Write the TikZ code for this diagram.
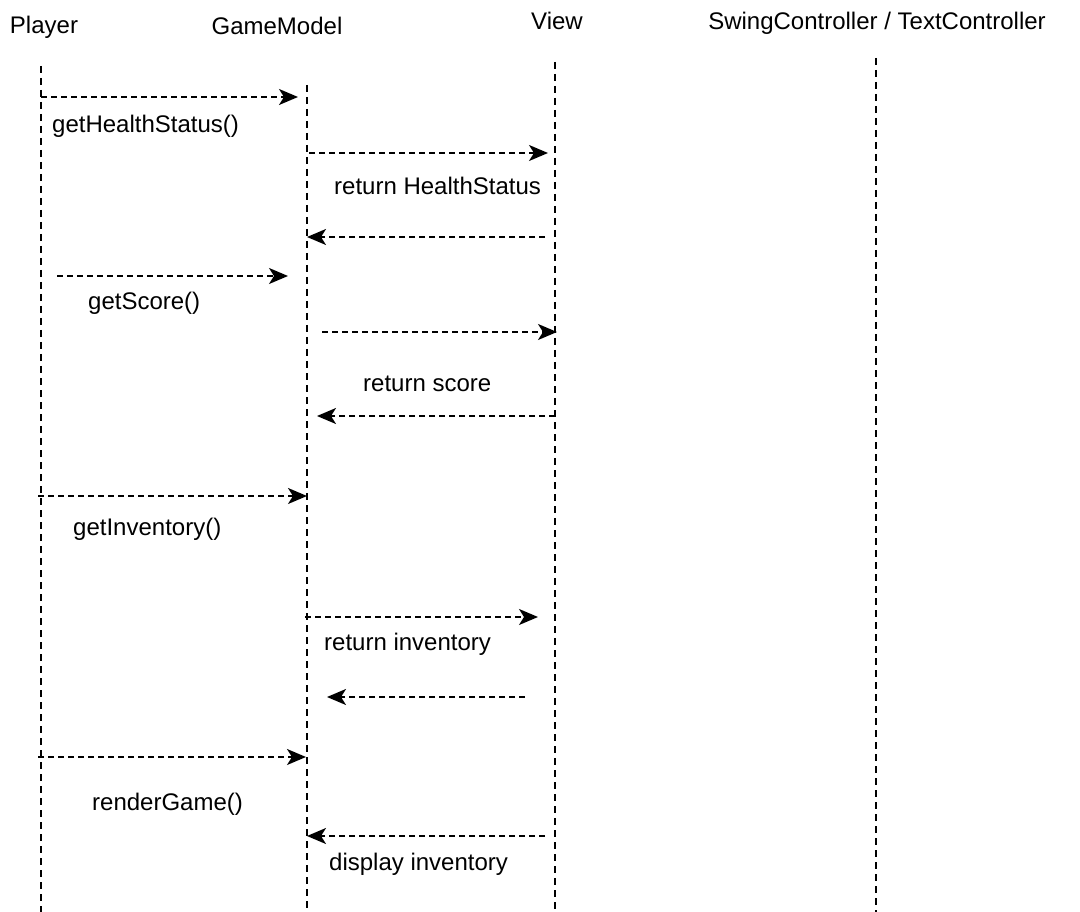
\documentclass[tikz,border=0pt]{standalone}
\usepackage{fontspec}
\setmainfont{Liberation Sans}
\usetikzlibrary{arrows.meta}
\begin{document}
\begin{tikzpicture}[x=1pt,y=-1pt,
  lifeline/.style={line width=1.8pt,dash pattern=on 7pt off 5pt},
  msg/.style={line width=1.8pt,dash pattern=on 6pt off 4pt,-{Stealth[length=19pt,width=16pt,inset=5pt]}},
  lbl/.style={anchor=base west,inner sep=0pt,font=\fontsize{24}{28}\selectfont},
  head/.style={anchor=base,inner sep=0pt,font=\fontsize{24}{28}\selectfont}]
\useasboundingbox (0,0) rectangle (1080,912);
% headers
\node[head] (hP) at (44,34) {Player};
\node[head] (hG) at (277,35) {GameModel};
\node[head] (hV) at (557,30) {View};
\node[head] (hC) at (877,30) {SwingController / TextController};
% lifelines
\coordinate (Pt) at (41,66);  \coordinate (Pb) at (41,912);
\coordinate (Gt) at (307,85); \coordinate (Gb) at (307,912);
\coordinate (Vt) at (555,62); \coordinate (Vb) at (555,912);
\coordinate (Ct) at (876,58); \coordinate (Cb) at (876,912);
\draw[lifeline] (Pt) -- (Pb);
\draw[lifeline] (Gt) -- (Gb);
\draw[lifeline] (Vt) -- (Vb);
\draw[lifeline] (Ct) -- (Cb);
% message endpoints
\coordinate (m1a) at (41,97);   \coordinate (m1b) at (298,97);
\coordinate (m2a) at (309,153); \coordinate (m2b) at (548,153);
\coordinate (m3a) at (545,237); \coordinate (m3b) at (307,237);
\coordinate (m4a) at (57,276);  \coordinate (m4b) at (288,276);
\coordinate (m5a) at (322,332); \coordinate (m5b) at (557,332);
\coordinate (m6a) at (555,416); \coordinate (m6b) at (317,416);
\coordinate (m7a) at (38,496);  \coordinate (m7b) at (307,496);
\coordinate (m8a) at (305,617); \coordinate (m8b) at (538,617);
\coordinate (m9a) at (525,697); \coordinate (m9b) at (327,697);
\coordinate (m10a) at (38,757); \coordinate (m10b) at (306,757);
\coordinate (m11a) at (545,836);\coordinate (m11b) at (307,836);
\draw[msg] (m1a) -- (m1b);
\draw[msg] (m2a) -- (m2b);
\draw[msg] (m3a) -- (m3b);
\draw[msg] (m4a) -- (m4b);
\draw[msg] (m5a) -- (m5b);
\draw[msg] (m6a) -- (m6b);
\draw[msg] (m7a) -- (m7b);
\draw[msg] (m8a) -- (m8b);
\draw[msg] (m9a) -- (m9b);
\draw[msg] (m10a) -- (m10b);
\draw[msg] (m11a) -- (m11b);
% labels
\node[lbl] (l1) at (52,133) {getHealthStatus()};
\node[lbl] (l2) at (334,195) {return HealthStatus};
\node[lbl] (l3) at (88,310) {getScore()};
\node[lbl] (l4) at (363,391) {return score};
\node[lbl] (l5) at (73,535) {getInventory()};
\node[lbl] (l6) at (324,650) {return inventory};
\node[lbl] (l7) at (92,810) {renderGame()};
\node[lbl] (l8) at (329,870) {display inventory};
\end{tikzpicture}
\end{document}
